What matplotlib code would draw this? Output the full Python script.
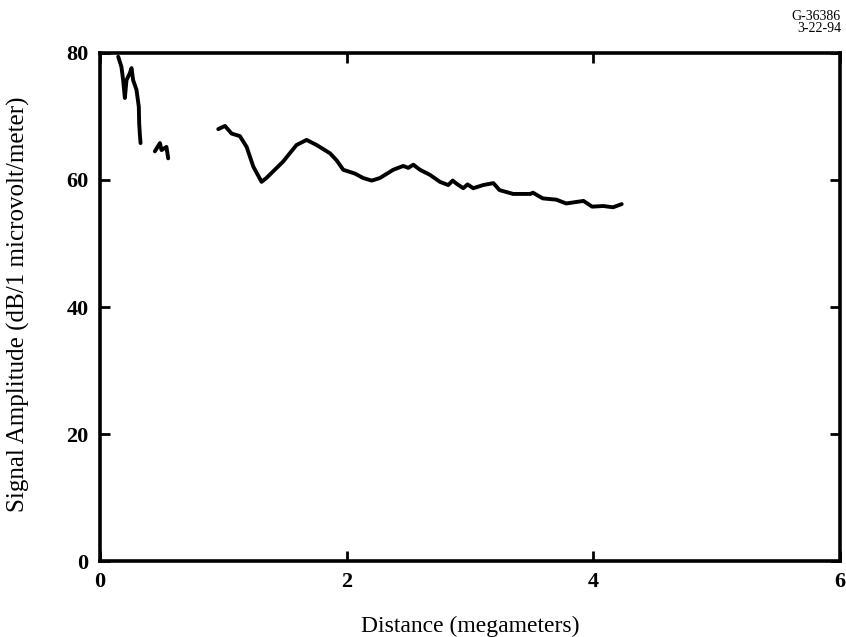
import matplotlib
matplotlib.use("Agg")
import matplotlib.pyplot as plt

# Segment 1 (near-field, sharp drop)
seg1_x = [0.149, 0.175, 0.189, 0.203, 0.216, 0.243, 0.257, 0.270, 0.297, 0.316, 0.319, 0.324, 0.330]
seg1_y = [79.4, 77.8, 75.7, 72.9, 75.7, 76.8, 77.6, 75.7, 74.2, 71.5, 68.9, 67.3, 65.8]

# Segment 2 (small squiggle)
seg2_x = [0.446, 0.487, 0.500, 0.540, 0.554]
seg2_y = [64.5, 65.8, 64.7, 65.2, 63.4]

# Segment 3 (main trace)
seg3_x = [0.96, 1.014, 1.068, 1.135, 1.19, 1.244, 1.311, 1.35, 1.486, 1.594, 1.676, 1.757,
          1.865, 1.919, 1.973, 2.068, 2.135, 2.203, 2.27, 2.378, 2.459, 2.50, 2.541, 2.595, 2.676,
          2.757, 2.824, 2.86, 2.892, 2.946, 2.98, 3.027, 3.108, 3.19, 3.24, 3.35, 3.49, 3.51, 3.59, 3.70,
          3.78, 3.92, 3.99, 4.08, 4.16, 4.23]
seg3_y = [68.0, 68.5, 67.3, 66.9, 65.2, 62.1, 59.7, 60.3, 62.9, 65.5, 66.3, 65.5,
          64.2, 63.1, 61.6, 61.0, 60.3, 59.9, 60.3, 61.6, 62.2, 61.9, 62.4, 61.6, 60.8,
          59.7, 59.2, 59.9, 59.4, 58.7, 59.3, 58.7, 59.2, 59.5, 58.4, 57.8, 57.8, 58.0, 57.1, 56.9,
          56.3, 56.7, 55.8, 55.9, 55.7, 56.2]

x_ticks = [0, 2, 4, 6]
y_ticks = [0, 20, 40, 60, 80]

plt.rcParams['font.family'] = ['Liberation Serif', 'DejaVu Serif']

fig = plt.figure(figsize=(8.46, 6.37), dpi=100)
ax = fig.add_axes([0.118, 0.119, 0.875, 0.798])

for xs, ys in [(seg1_x, seg1_y), (seg2_x, seg2_y), (seg3_x, seg3_y)]:
    ax.plot(xs, ys, color='black', linewidth=2.8, solid_capstyle='round', solid_joinstyle='round')

ax.set_xlim(0, 6)
ax.set_ylim(0, 80)
ax.set_xticks(x_ticks)
ax.set_yticks(y_ticks)
ax.tick_params(direction='in', length=7, width=2, top=True, right=True, labelsize=16, pad=8)
for lbl in ax.get_xticklabels() + ax.get_yticklabels():
    lbl.set_fontweight('bold')
for sp in ax.spines.values():
    sp.set_linewidth(2.6)

ax.set_xlabel('Distance (megameters)', fontsize=17)
ax.set_ylabel('Signal Amplitude (dB/1 microvolt/meter)', fontsize=18)
ax.xaxis.set_label_coords(0.5, -0.108)
ax.yaxis.set_label_coords(-0.094, 0.506)

fig.text(0.994, 0.985, 'G-36386\n3-22-94', ha='right', va='top', fontsize=10, linespacing=0.95)

fig.savefig('out.png', dpi=100)
